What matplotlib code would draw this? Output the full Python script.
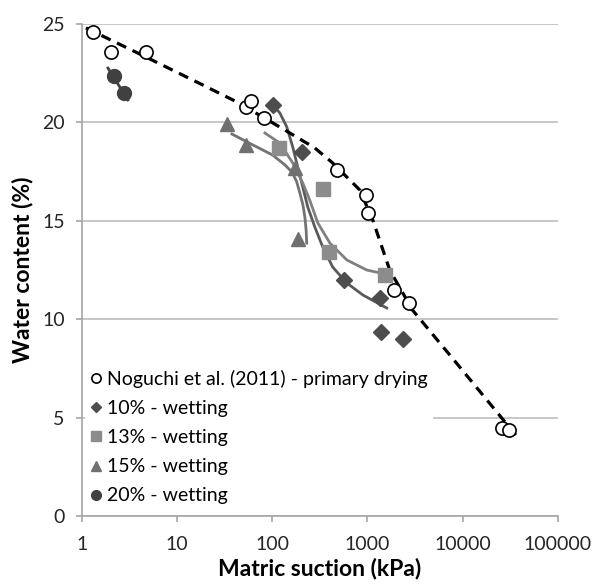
import matplotlib.pyplot as plt
from matplotlib.ticker import FixedLocator, FixedFormatter

plt.rcParams['font.family'] = ['Lato', 'DejaVu Sans']

# Noguchi et al. (2011) - primary drying (points)
nog_x = [1.30, 2.02, 4.70, 52.8, 59.5, 81.8, 477, 962, 1004, 1903, 2718, 25700, 31000]
nog_y = [24.6, 23.6, 23.6, 20.8, 21.1, 20.2, 17.6, 16.3, 15.4, 11.5, 10.8, 4.47, 4.37]
# dashed trend
nog_fit_x = [1.10, 4.8, 16.1, 40, 79.6, 153, 280, 431, 829, 1138, 1713, 2970, 9330, 37000]
nog_fit_y = [24.8, 23.3, 22.05, 21.1, 20.27, 19.46, 18.7, 17.94, 16.57, 15.04, 12.5, 10.47, 7.57, 4.06]

# 10% - wetting
w10_x = [101, 205, 564, 1361, 1394, 2346]
w10_y = [20.9, 18.5, 12.0, 11.1, 9.35, 9.0]
w10_fit_x = [101.3, 120, 142, 164, 185, 209, 236, 280, 339, 431, 607, 895, 1594]
w10_fit_y = [20.88, 20.48, 19.77, 18.75, 17.73, 16.72, 15.70, 14.68, 13.67, 12.65, 11.84, 11.23, 10.57]

# 13% - wetting
w13_x = [117, 339, 394, 1517]
w13_y = [18.7, 16.6, 13.4, 12.25]
w13_fit_x = [83.7, 120, 164, 209, 247, 301, 403, 607, 984, 1517]
w13_fit_y = [19.46, 18.95, 17.94, 16.92, 16.06, 14.89, 13.87, 13.01, 12.5, 12.30]

# 15% - wetting
w15_x = [33.3, 52.8, 172, 186]
w15_y = [19.9, 18.85, 17.7, 14.1]
w15_fit_x = [37.6, 62.8, 101, 135, 161, 180, 195, 210, 220, 227, 230]
w15_fit_y = [19.41, 18.85, 18.34, 17.85, 17.48, 17.0, 16.41, 15.8, 15.19, 14.5, 13.87]

# 20% - wetting
w20_x = [2.17, 2.76]
w20_y = [22.36, 21.5]
w20_fit_x = [1.875, 3.04]
w20_fit_y = [22.76, 21.14]

fig = plt.figure(figsize=(5.94, 5.88), dpi=100)
ax = fig.add_axes([0.138, 0.1224, 0.801, 0.8368])

ax.plot(nog_fit_x, nog_fit_y, color='black', lw=2.3, dashes=(3.2, 2.2), zorder=3)
ax.plot(w10_fit_x, w10_fit_y, color='#5a5a5a', lw=2, zorder=2)
ax.plot(w13_fit_x, w13_fit_y, color='#808080', lw=2, zorder=2)
ax.plot(w15_fit_x, w15_fit_y, color='#737373', lw=2, zorder=2)
ax.plot(w20_fit_x, w20_fit_y, color='#404040', lw=2, zorder=2)

ax.plot(nog_x, nog_y, 'o', ms=9.5, mfc='white', mec='black', mew=1.2, ls='none',
        zorder=4, label='Noguchi et al. (2011) - primary drying')
ax.plot(w10_x, w10_y, 'D', ms=8, color='#4d4d4d', ls='none', zorder=4, label='10% - wetting')
ax.plot(w13_x, w13_y, 's', ms=10, color='#8c8c8c', ls='none', zorder=4, label='13% - wetting')
ax.plot(w15_x, w15_y, '^', ms=10, color='#707070', ls='none', zorder=4, label='15% - wetting')
ax.plot(w20_x, w20_y, 'o', ms=10, color='#404040', ls='none', zorder=4, label='20% - wetting')

ax.set_xscale('log')
ax.set_xlim(1, 100000)
ax.set_ylim(0, 25)
ax.xaxis.set_major_locator(FixedLocator([1, 10, 100, 1000, 10000, 100000]))
ax.xaxis.set_major_formatter(FixedFormatter(['1', '10', '100', '1000', '10000', '100000']))
ax.xaxis.set_minor_locator(FixedLocator([]))
ax.set_yticks([0, 5, 10, 15, 20, 25])

ax.grid(axis='y', color='#bdbdbd', lw=1.2, zorder=0)
ax.set_axisbelow(True)
for s in ['top', 'right']:
    ax.spines[s].set_visible(False)
for s in ['left', 'bottom']:
    ax.spines[s].set_color('#a6a6a6')
    ax.spines[s].set_linewidth(1.2)
ax.tick_params(axis='both', colors='#a6a6a6', labelcolor='#262626', labelsize=14, length=4.5, width=1.2)
ax.tick_params(axis='y', pad=8)
ax.tick_params(axis='x', pad=10)

ax.set_xlabel('Matric suction (kPa)', fontsize=16.5, fontweight='bold', labelpad=3)
ax.set_ylabel('Water content (%)', fontsize=16.5, fontweight='bold', labelpad=6)

leg = ax.legend(loc='lower left', bbox_to_anchor=(-0.005, 0.0), fontsize=14, markerscale=0.7,
                handlelength=0.5, handletextpad=0.3, labelspacing=0.62, borderpad=0.3,
                frameon=True, facecolor='white', edgecolor='none', framealpha=1, borderaxespad=0.3)
leg.set_zorder(5)

fig.savefig('out.png', dpi=100, facecolor='white')
